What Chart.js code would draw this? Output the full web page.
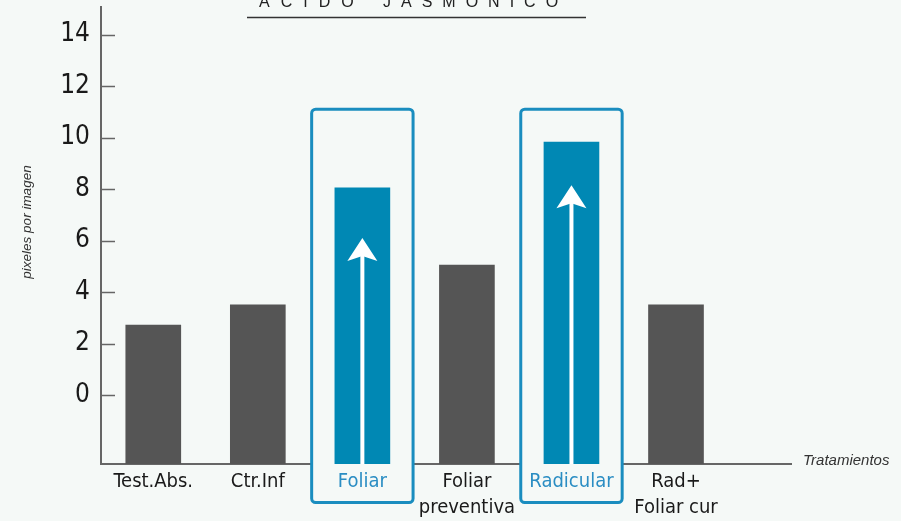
<!DOCTYPE html>
<html lang="es">
<head>
<meta charset="utf-8">
<title>Ácido jasmónico</title>
<script src="https://cdn.jsdelivr.net/npm/chart.js@4.4.1/dist/chart.umd.min.js"></script>
<style>
  html, body { margin: 0; padding: 0; background: #f5f9f7; }
  #wrap { width: 901px; height: 521px; position: relative; }
</style>
</head>
<body>
<div id="wrap"><canvas id="jasmonicoChart"></canvas></div>
<script>
// pixeles por imagen, per treatment
const categories = [['Test.Abs.'], ['Ctr.Inf'], ['Foliar'], ['Foliar', 'preventiva'], ['Radicular'], ['Rad+', 'Foliar cur']];
const values = [2.72, 3.5, 8.05, 5.05, 9.82, 3.5];
const highlighted = [2, 4];          // framed blue bars
const arrowTips = [6.1, 8.15];       // arrow tip value inside each framed bar
const yTicks = [0, 2, 4, 6, 8, 10, 12, 14];
const yMin = -2.68, yMax = 15.07;
const boxTop = 11.1, boxBottom = -4.18;

const BG = '#f5f9f7';
const GREY_BAR = '#555555';
const BLUE_BAR = '#0088b4';
const BLUE_FRAME = '#1a8dbf';
const BLUE_TEXT = '#2a8dc3';
const AXIS = '#666666';
const NARROW = "'DejaVu Sans Condensed', 'Liberation Sans', sans-serif";

const decorations = {
  id: 'decorations',
  beforeDatasetsDraw(chart) {
    const { ctx, scales: { x, y } } = chart;
    const base = y.getPixelForValue(yMin);
    ctx.save();
    highlighted.forEach(i => {
      const l = x.getPixelForValue(i - 0.485), r = x.getPixelForValue(i + 0.485);
      const t = y.getPixelForValue(boxTop), b = y.getPixelForValue(boxBottom);
      ctx.fillStyle = BG;
      ctx.fillRect(l, base - 2, r - l, 4);
      ctx.strokeStyle = BLUE_FRAME;
      ctx.lineWidth = 3;
      ctx.beginPath();
      ctx.roundRect(l, t, r - l, b - t, 4);
      ctx.stroke();
    });
    ctx.restore();
  },
  afterDatasetsDraw(chart) {
    const { ctx, scales: { x, y } } = chart;
    const base = y.getPixelForValue(yMin);
    ctx.save();
    ctx.strokeStyle = '#ffffff';
    ctx.fillStyle = '#ffffff';
    highlighted.forEach((i, k) => {
      const cx = x.getPixelForValue(i);
      const tip = y.getPixelForValue(arrowTips[k]);
      ctx.lineWidth = 4;
      ctx.beginPath();
      ctx.moveTo(cx, base);
      ctx.lineTo(cx, tip + 16);
      ctx.stroke();
      ctx.beginPath();
      ctx.moveTo(cx, tip);
      ctx.lineTo(cx + 15, tip + 23);
      ctx.lineTo(cx, tip + 18);
      ctx.lineTo(cx - 15, tip + 23);
      ctx.closePath();
      ctx.fill();
    });
    ctx.restore();
  },
  afterDraw(chart) {
    const { ctx, chartArea, scales: { y } } = chart;
    ctx.save();
    // inward tick marks on the value axis
    ctx.strokeStyle = AXIS;
    ctx.lineWidth = 1.5;
    yTicks.forEach(v => {
      const py = Math.round(y.getPixelForValue(v)) + 0.5;
      ctx.beginPath();
      ctx.moveTo(chartArea.left, py);
      ctx.lineTo(chartArea.left + 14, py);
      ctx.stroke();
    });
    // title, cut at the top edge
    ctx.fillStyle = '#222222';
    ctx.font = "16px 'Liberation Sans', sans-serif";
    ctx.textAlign = 'left';
    ctx.textBaseline = 'alphabetic';
    ctx.letterSpacing = '11px';
    ctx.fillText('ÁCIDO', 259, 7);
    ctx.letterSpacing = '10px';
    ctx.fillText('JASMÓNICO', 383, 7);
    ctx.letterSpacing = '0px';
    ctx.strokeStyle = '#333333';
    ctx.lineWidth = 1.5;
    ctx.beginPath();
    ctx.moveTo(247, 17.5);
    ctx.lineTo(586, 17.5);
    ctx.stroke();
    // axis titles
    ctx.fillStyle = '#333333';
    ctx.font = "italic 13.5px 'Liberation Sans', sans-serif";
    ctx.textAlign = 'center';
    ctx.textBaseline = 'middle';
    ctx.translate(27, 222);
    ctx.rotate(-Math.PI / 2);
    ctx.fillText('pixeles por imagen', 0, 0);
    ctx.setTransform(1, 0, 0, 1, 0, 0);
    ctx.font = "italic 15px 'Liberation Sans', sans-serif";
    ctx.textAlign = 'left';
    ctx.textBaseline = 'alphabetic';
    ctx.fillText('Tratamientos', 803, 465);
    ctx.restore();
  }
};

const ctx = document.getElementById('jasmonicoChart').getContext('2d');
new Chart(ctx, {
  type: 'bar',
  data: {
    datasets: [{
      data: values.map((v, i) => ({ x: i, y: v })),
      base: yMin,
      backgroundColor: values.map((v, i) => highlighted.includes(i) ? BLUE_BAR : GREY_BAR),
      borderWidth: 0,
      barThickness: 55
    }]
  },
  options: {
    responsive: true,
    maintainAspectRatio: false,
    animation: false,
    layout: { padding: { top: 7, right: 110, left: 0, bottom: 0 } },
    scales: {
      x: {
        type: 'linear',
        offset: false,
        min: -0.5,
        max: 6.1,
        afterBuildTicks: s => { s.ticks = categories.map((c, i) => ({ value: i })); },
        afterFit: s => { s.height = 57; s.paddingLeft = 0; s.paddingRight = 0; },
        grid: { display: false, drawTicks: false },
        border: { display: true, color: AXIS, width: 2 },
        ticks: {
          autoSkip: false,
          maxRotation: 0,
          padding: 5,
          callback: v => categories[v],
          color: c => highlighted.includes(c.index) ? BLUE_TEXT : '#1a1a1a',
          font: { family: NARROW, size: 20, lineHeight: 1.3 }
        }
      },
      y: {
        min: yMin,
        max: yMax,
        afterBuildTicks: s => { s.ticks = yTicks.map(v => ({ value: v })); },
        afterFit: s => { s.width = 101; s.paddingTop = 0; s.paddingBottom = 0; },
        grid: { display: false, drawTicks: false },
        border: { display: true, color: AXIS, width: 2 },
        ticks: {
          padding: 11,
          color: '#1a1a1a',
          font: { family: NARROW, size: 26 }
        }
      }
    },
    plugins: {
      legend: { display: false },
      tooltip: { enabled: false }
    }
  },
  plugins: [decorations]
});
</script>
</body>
</html>
